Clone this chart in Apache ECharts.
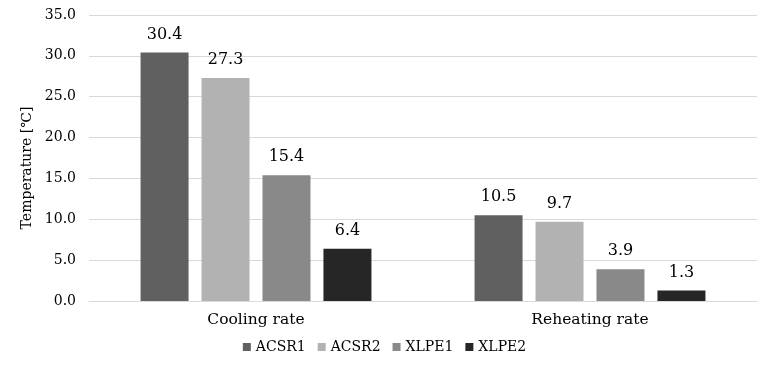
<!DOCTYPE html>
<html><head><meta charset="utf-8">
<script src="https://cdn.jsdelivr.net/npm/echarts@6/dist/echarts.min.js"></script>
<style>html,body{margin:0;padding:0;background:#fff}#c{width:769px;height:367px}</style>
</head><body><div id="c"></div>
<script>
const categories = ["Cooling rate", "Reheating rate"];
const seriesNames = ["ACSR1", "ACSR2", "XLPE1", "XLPE2"];
const ACSR1 = [30.4, 10.5];
const ACSR2 = [27.3, 9.7];
const XLPE1 = [15.4, 3.9];
const XLPE2 = [6.4, 1.3];
const colors = ["#606060", "#b2b2b2", "#898989", "#262626"];
const values = [ACSR1, ACSR2, XLPE1, XLPE2];
const font = "'DejaVu Serif', 'Liberation Serif', serif";
const chart = echarts.init(document.getElementById('c'));
chart.setOption({
  animation: false,
  textStyle: { fontFamily: font },
  grid: { left: 89, right: 12, top: 15, bottom: 66 },
  legend: {
    bottom: 8, left: 'center', itemWidth: 8, itemHeight: 8, itemGap: 12,
    icon: 'rect',
    textStyle: { fontFamily: font, fontSize: 14, color: '#000' },
    data: seriesNames
  },
  xAxis: {
    type: 'category', data: categories,
    axisTick: { show: false },
    axisLine: { lineStyle: { color: '#d9d9d9' } },
    axisLabel: { fontFamily: font, fontSize: 15.5, color: '#000', margin: 11 }
  },
  yAxis: {
    type: 'value', min: 0, max: 35, interval: 5,
    name: 'Temperature [℃]', nameLocation: 'middle', nameGap: 54,
    nameTextStyle: { fontFamily: font, fontSize: 14, color: '#000', padding: [0, 20, 0, 0] },
    splitLine: { lineStyle: { color: '#d9d9d9' } },
    axisLine: { show: false }, axisTick: { show: false },
    axisLabel: { fontFamily: font, fontSize: 14, color: '#000', margin: 13,
      formatter: v => v.toFixed(1) }
  },
  series: seriesNames.map((n, i) => ({
    name: n, type: 'bar', data: values[i], barWidth: 48, barGap: '27%',
    itemStyle: { color: colors[i] },
    label: { show: true, position: 'top', distance: 10, fontFamily: font, fontSize: 16, color: '#000',
      formatter: p => p.value.toFixed(1) }
  }))
});
</script></body></html>
